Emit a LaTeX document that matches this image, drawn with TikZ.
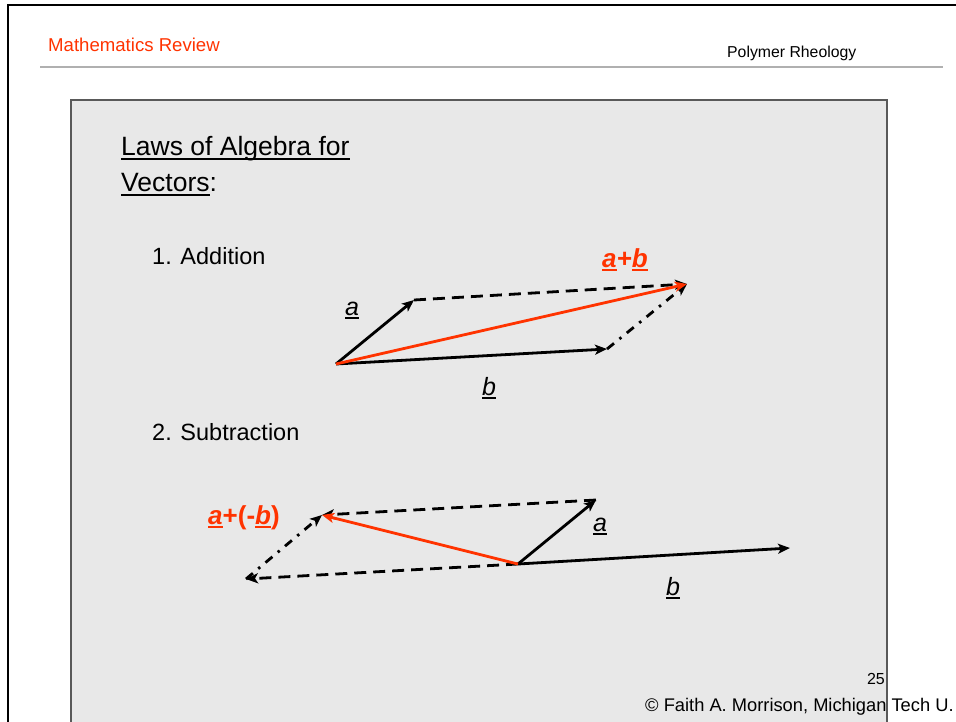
\documentclass[tikz,border=0pt]{standalone}
\usepackage{fontspec}
\setmainfont{Liberation Sans}
\usetikzlibrary{arrows.meta}
\definecolor{orred}{HTML}{FF3300}
\definecolor{panelgray}{HTML}{E8E8E8}
\definecolor{rulegray}{HTML}{B0B0B0}
\newcommand\ulx[1]{\setbox0=\hbox{#1}\rlap{\rule[-0.16em]{\wd0}{0.08em}}\box0}
\tikzset{
  vec/.style={line width=2.8pt, -{Stealth[length=12pt,width=10pt,inset=3pt]}},
  redvec/.style={vec, draw=orred},
  dashvec/.style={vec, dash pattern=on 12pt off 7pt},
  dotvec/.style={vec, dash pattern=on 9pt off 7pt on 2.5pt off 7pt},
  body/.style={anchor=base west, inner sep=0pt, font=\fontsize{23.5}{28}\selectfont},
  title/.style={anchor=base west, inner sep=0pt, font=\fontsize{26.5}{32}\selectfont},
  vlab/.style={anchor=base, inner sep=0pt, font=\fontsize{25}{28}\selectfont\itshape},
  rlab/.style={anchor=base, inner sep=0pt, text=orred, font=\fontsize{26}{30}\selectfont\bfseries\itshape},
}
\begin{document}
\begin{tikzpicture}[x=1pt,y=-1pt]
\useasboundingbox (0,0) rectangle (956,721);
\fill[white] (0,0) rectangle (956,721);
% outer frame
\draw[line width=2.6pt, line join=miter] (8,722) -- (8,5) -- (957,5);
% header
\node[anchor=base west, inner sep=0pt, text=orred, font=\fontsize{18.6}{22}\selectfont] (hdrl) at (48,51.5) {Mathematics Review};
\node[anchor=base west, inner sep=0pt, font=\fontsize{15.8}{19}\selectfont] (hdrr) at (727,57.5) {Polymer Rheology};
\draw[rulegray, line width=2pt] (40,67) -- (943,67);
% panel
\fill[panelgray] (71,100) rectangle (887,722);
\draw[black!65, line width=1.6pt] (71,722) -- (71,100) -- (887,100) -- (887,722);
% titles
\node[title] (ttl1) at (121,155.5) {\ulx{Laws of Algebra for}};
\node[title] (ttl2) at (121,191.5) {\ulx{Vectors}:};
\node[body] (add) at (152,264) {1. Addition};
\node[body] (sub) at (152,440) {2. Subtraction};
% addition
\coordinate (O) at (336,364);
\coordinate (A) at (414,300);
\coordinate (B) at (607,349);
\coordinate (S) at (687,284);
\draw[vec] (O) -- (A);
\draw[vec] (O) -- (B);
\draw[dashvec] (A) -- (S);
\draw[dotvec] (B) -- (S);
\draw[redvec] (O) -- (S);
\node[vlab] (la) at (352,315) {\ulx{a}};
\node[vlab] (lb) at (489,395) {\ulx{b}};
\node[rlab] (lab) at (625,267) {\ulx{a}+\ulx{b}};
% subtraction
\coordinate (O2) at (518,564);
\coordinate (A2) at (596,500);
\coordinate (B2) at (790,548);
\coordinate (NB) at (246,579);
\coordinate (R) at (322,515);
\draw[vec] (O2) -- (A2);
\draw[vec] (O2) -- (B2);
\draw[dashvec] (O2) -- (NB);
\draw[dashvec] (A2) -- (R);
\draw[dotvec] (NB) -- (R);
\draw[redvec] (O2) -- (R);
\node[anchor=base west, inner sep=0pt, text=orred, font=\fontsize{26}{30}\selectfont\bfseries] (lamb) at (208,524) {\textit{\ulx{a}}+(-\textit{\ulx{b}})};
\node[vlab] (la2) at (600,531) {\ulx{a}};
\node[vlab] (lb2) at (673,595) {\ulx{b}};
% footer
\node[anchor=base east, inner sep=0pt, font=\fontsize{16}{19}\selectfont] (pg) at (885,684) {25};
\node[anchor=base west, inner sep=0pt, font=\fontsize{18.3}{22}\selectfont] (ft) at (645,711) {© Faith A. Morrison, Michigan Tech U.};
\end{tikzpicture}
\end{document}
